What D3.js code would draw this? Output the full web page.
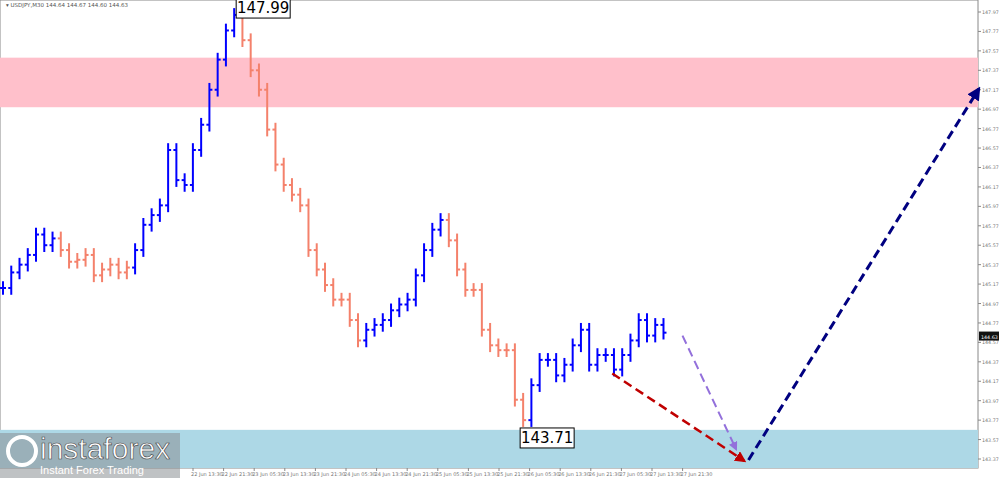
<!DOCTYPE html><html><head><meta charset="utf-8">
<script src="https://cdn.jsdelivr.net/npm/d3@7"></script>
<style>body{margin:0;background:#fff}svg{display:block}</style></head><body>
<svg id="c" width="1000" height="478"></svg>
<script>
const closes=[145.13,145.29,145.37,145.47,145.68,145.57,145.64,145.52,145.40,145.42,145.47,145.26,145.32,145.37,145.29,145.34,145.52,145.78,145.88,145.98,146.55,146.24,146.19,146.55,146.81,147.17,147.48,147.78,147.94,147.68,147.37,147.17,146.76,146.40,146.19,146.09,145.98,145.52,145.32,145.16,145.01,145.01,144.80,144.59,144.70,144.75,144.80,144.90,144.96,145.01,145.26,145.52,145.73,145.83,145.62,145.32,145.11,145.11,144.70,144.54,144.49,144.49,143.98,143.77,144.13,144.39,144.39,144.23,144.34,144.54,144.70,144.34,144.44,144.44,144.29,144.44,144.59,144.80,144.64,144.75,144.67];
const waves=[[0,6,"up"],[7,15,"down"],[16,28,"up"],[29,43,"down"],[44,53,"up"],[54,63,"down"],[64,82,"up"]];
const yTicks=[147.97,147.77,147.57,147.37,147.17,146.97,146.77,146.57,146.37,146.17,145.97,145.77,145.57,145.37,145.17,144.97,144.77,144.57,144.37,144.17,143.97,143.77,143.57,143.37];
const xLabels=["22 Jun 13:30","22 Jun 21:30","23 Jun 05:30","23 Jun 13:30","23 Jun 21:30","24 Jun 05:30","24 Jun 13:30","24 Jun 21:30","25 Jun 05:30","25 Jun 13:30","25 Jun 21:30","26 Jun 05:30","26 Jun 13:30","26 Jun 21:30","27 Jun 05:30","27 Jun 13:30","27 Jun 21:30"];
const zones=[{top:147.50,bottom:146.99,color:"#ffc0cb"},{top:143.67,bottom:143.26,color:"#add8e6"}];
const arrows=[{x1:82.3,y1:144.64,x2:88.8,y2:143.47,color:"#9370db",w:2},{x1:73.8,y1:144.25,x2:89.8,y2:143.35,color:"#c00000",w:2.5},{x1:90.3,y1:143.36,x2:118.2,y2:147.18,color:"#000080",w:3}];
const marks=[{i:28,p:147.99,text:"147.99",dx:2,dy:-12},{i:63,p:143.71,text:"143.71",dx:-3,dy:2}];

const svg=d3.select("#c");
const x=d3.scaleLinear().domain([0,82]).range([3,680]);
const y=d3.scaleLinear().domain([147.97,143.37]).range([12,459]);
const W=978,H=468;
svg.append("rect").attr("x",0).attr("y",0).attr("width",W).attr("height",H).attr("fill","#fff").attr("stroke","#888");
zones.forEach(z=>svg.append("rect").attr("x",0).attr("width",W).attr("y",y(z.top)).attr("height",Math.min(H,y(z.bottom))-y(z.top)).attr("fill",z.color));
svg.append("text").attr("x",6).attr("y",7).attr("font-size",5.5).attr("fill","#555").attr("font-family","DejaVu Sans").text("▾ USDJPY,M30  144.64 144.67 144.60 144.63");
yTicks.forEach(t=>{svg.append("line").attr("x1",W).attr("x2",W+3).attr("y1",y(t)).attr("y2",y(t)).attr("stroke","#888");
svg.append("text").attr("x",W+4).attr("y",y(t)+2).attr("font-size",4.8).attr("fill","#777").attr("font-family","DejaVu Sans").text(t.toFixed(2));});
svg.append("rect").attr("x",W+1).attr("y",y(144.63)-5).attr("width",20).attr("height",9).attr("fill","#111");
svg.append("text").attr("x",W+3).attr("y",y(144.63)+2).attr("font-size",4.8).attr("fill","#fff").attr("font-family","DejaVu Sans").text("144.63");
xLabels.forEach((l,i)=>{const px=193+i*30.6;svg.append("line").attr("x1",px).attr("x2",px).attr("y1",H).attr("y2",H+3).attr("stroke","#888");
svg.append("text").attr("x",px-2).attr("y",H+8).attr("font-size",5).attr("fill","#777").attr("font-family","DejaVu Sans").text(l);});
const col=i=>{const w=waves.find(v=>i>=v[0]&&i<=v[1]);return w[2]==="up"?"#0000ff":"#f4816b";};
closes.forEach((c,i)=>{const o=i?closes[i-1]:c;const hi=Math.max(o,c)+0.07,lo=Math.min(o,c)-0.07;const px=x(i),cl=col(i);
const g=svg.append("g").attr("stroke",cl).attr("stroke-width",2);
g.append("line").attr("x1",px).attr("x2",px).attr("y1",y(hi)).attr("y2",y(lo));
g.append("line").attr("x1",px-3).attr("x2",px).attr("y1",y(o)).attr("y2",y(o));
g.append("line").attr("x1",px).attr("x2",px+3).attr("y1",y(c)).attr("y2",y(c));});
const defs=svg.append("defs");
arrows.forEach((a,k)=>{defs.append("marker").attr("id","m"+k).attr("viewBox","0 0 10 10").attr("refX",8).attr("refY",5).attr("markerWidth",4.5).attr("markerHeight",4.5).attr("orient","auto").append("path").attr("d","M0,0L10,5L0,10z").attr("fill",a.color);
svg.append("line").attr("x1",x(a.x1)).attr("y1",y(a.y1)).attr("x2",x(a.x2)).attr("y2",y(a.y2)).attr("stroke",a.color).attr("stroke-width",a.w).attr("stroke-dasharray","9,5").attr("marker-end","url(#m"+k+")");});
marks.forEach(m=>{const px=x(m.i)+m.dx,py=y(m.p)+m.dy;const g=svg.append("g");
g.append("rect").attr("x",px).attr("y",py).attr("width",54).attr("height",20).attr("fill","#fff").attr("stroke","#000");
g.append("text").attr("x",px+27).attr("y",py+15).attr("text-anchor","middle").attr("font-size",15).attr("font-family","DejaVu Sans").text(m.text);});
const lg=svg.append("g").attr("font-family","Liberation Sans").attr("fill","#fff").attr("stroke","#444").attr("stroke-width",0.6);
lg.append("rect").attr("x",0).attr("y",433).attr("width",180).attr("height",45).attr("fill","#8a8f94").attr("stroke","none").attr("opacity",0.55);
lg.append("circle").attr("cx",22).attr("cy",451).attr("r",14).attr("fill","none").attr("stroke","#fff").attr("stroke-width",4);
lg.append("text").attr("x",40).attr("y",459).attr("font-size",30).text("instaforex");
lg.append("text").attr("x",40).attr("y",474).attr("font-size",11).attr("stroke","none").attr("fill","#fff").text("Instant Forex Trading");
</script></body></html>
